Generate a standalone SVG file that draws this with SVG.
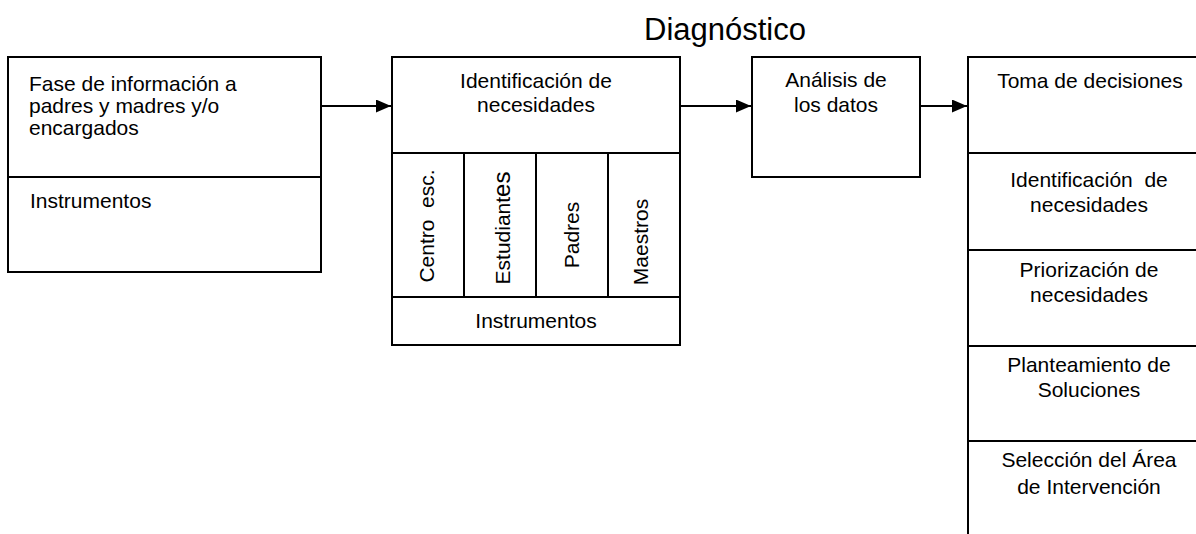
<svg xmlns="http://www.w3.org/2000/svg" width="1196" height="534" viewBox="0 0 1196 534">
<style>
.box{fill:#fff;stroke:#000;stroke-width:2}
.ln{stroke:#000;stroke-width:2;fill:none}
.t{font-family:"Liberation Sans",Arial,sans-serif;font-size:21px;fill:#000;white-space:pre}
.c{text-anchor:middle}
.title{font-family:"Liberation Sans",Arial,sans-serif;font-size:31px;fill:#000;text-anchor:middle}
</style>
<defs>
<marker id="ah" markerWidth="15" markerHeight="13" refX="15" refY="6.5" orient="auto" markerUnits="userSpaceOnUse">
<path d="M0,0 L15,6.5 L0,13 Z" fill="#000"/>
</marker>
</defs>
<rect width="1196" height="534" fill="#fff"/>
<text class="title" x="725" y="40">Diagnóstico</text>

<g id="fase">
<rect class="box" x="8" y="57" width="313" height="215"/>
<line class="ln" x1="8" y1="177" x2="321" y2="177"/>
<text class="t" x="29" y="91">Fase de información a</text>
<text class="t" x="29" y="113">padres y madres y/o</text>
<text class="t" x="29" y="135">encargados</text>
<text class="t" x="30" y="208">Instrumentos</text>
</g>

<g id="identificacion">
<rect class="box" x="392" y="57" width="288" height="288"/>
<line class="ln" x1="392" y1="153" x2="680" y2="153"/>
<line class="ln" x1="392" y1="297" x2="680" y2="297"/>
<line class="ln" x1="464" y1="153" x2="464" y2="297"/>
<line class="ln" x1="536" y1="153" x2="536" y2="297"/>
<line class="ln" x1="608" y1="153" x2="608" y2="297"/>
<text class="t c" x="536" y="88">Identificación de</text>
<text class="t c" x="536" y="112">necesidades</text>
<text class="t c" xml:space="preserve" transform="translate(434,226) rotate(-90)">Centro  esc.</text>
<text class="t c" transform="translate(510,228) rotate(-90)">Estudiant<tspan font-size="24">es</tspan></text>
<text class="t c" transform="translate(579,235) rotate(-90)">Padres</text>
<text class="t c" transform="translate(648,242) rotate(-90)">Maestros</text>
<text class="t c" x="536" y="328">Instrumentos</text>
</g>

<g id="analisis">
<rect class="box" x="752" y="57" width="168" height="120"/>
<text class="t c" x="836" y="87">Análisis de</text>
<text class="t c" x="836" y="112">los datos</text>
</g>

<g id="toma">
<rect class="box" x="968" y="57" width="250" height="490"/>
<line class="ln" x1="968" y1="153" x2="1218" y2="153"/>
<line class="ln" x1="968" y1="250" x2="1218" y2="250"/>
<line class="ln" x1="968" y1="346" x2="1218" y2="346"/>
<line class="ln" x1="968" y1="441" x2="1218" y2="441"/>
<text class="t c" x="1090" y="88">Toma de decisiones</text>
<text class="t c" xml:space="preserve" x="1089" y="187">Identificación  de</text>
<text class="t c" x="1089" y="212">necesidades</text>
<text class="t c" x="1089" y="277">Priorización de</text>
<text class="t c" x="1089" y="302">necesidades</text>
<text class="t c" x="1089" y="372">Planteamiento de</text>
<text class="t c" x="1089" y="397">Soluciones</text>
<text class="t c" x="1089" y="467">Selección del Área</text>
<text class="t c" x="1089" y="494">de Intervención</text>
</g>

<g id="connectors">
<line class="ln" x1="321" y1="106" x2="391" y2="106" marker-end="url(#ah)"/>
<line class="ln" x1="680" y1="106" x2="751" y2="106" marker-end="url(#ah)"/>
<line class="ln" x1="920" y1="106" x2="967" y2="106" marker-end="url(#ah)"/>
</g>
</svg>
